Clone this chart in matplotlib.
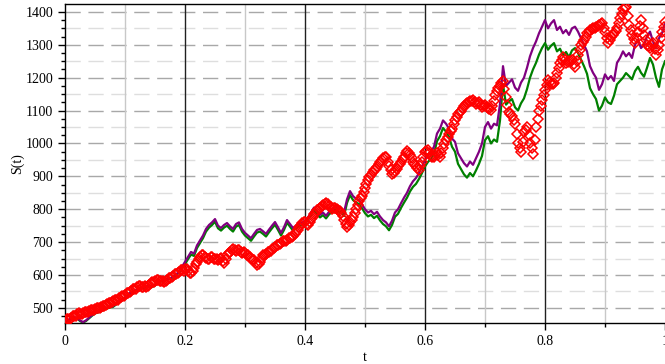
import matplotlib.pyplot as plt
import numpy as np
from matplotlib.ticker import MultipleLocator

plt.rcParams['font.family'] = ['Liberation Serif', 'DejaVu Serif']

# sample times (step 0.005), plus the half-step times used by the red samples
t = np.linspace(0, 1, 201)
t_mid = t[:-1] + 0.0025

purple_path = [
    460, 463, 468, 472, 470, 462, 457, 462, 470, 478,
    485, 488, 492, 497, 500, 503, 505, 512, 520, 526,
    532, 540, 548, 552, 556, 560, 562, 565, 567, 565,
    570, 578, 582, 585, 588, 590, 595, 600, 612, 625,
    640, 655, 670, 665, 690, 705, 720, 740, 752, 760,
    770, 750, 743, 752, 758, 748, 740, 755, 760, 740,
    728, 720, 712, 725, 737, 740, 733, 725, 738, 750,
    761, 745, 728, 745, 767, 755, 743, 750, 755, 760,
    765, 775, 790, 805, 795, 783, 790, 780, 792, 800,
    810, 800, 805, 790, 830, 855, 840, 832, 828, 815,
    800, 790, 795, 785, 792, 778, 767, 760, 748, 765,
    790, 800, 818, 835, 850, 870, 885, 895, 910, 930,
    950, 965, 975, 990, 1030, 1045, 1070, 1060, 1045, 1015,
    1005, 970, 955, 940, 930, 945, 935, 955, 975, 1000,
    1050, 1065, 1045, 1060, 1055, 1120, 1235, 1175, 1185, 1195,
    1170, 1160, 1185, 1200, 1230, 1265, 1290, 1310, 1335, 1355,
    1375, 1350, 1365, 1375, 1345, 1355, 1335, 1345, 1330, 1350,
    1355, 1340, 1320, 1300, 1280, 1235, 1215, 1200, 1163, 1180,
    1210, 1195, 1205, 1190, 1245, 1260, 1280, 1265, 1275, 1260,
    1300, 1315, 1290, 1300, 1325, 1340, 1310, 1290, 1320, 1335,
    1365,
]

green_path = [
    459, 461, 466, 470, 468, 460, 455, 460, 468, 476,
    483, 486, 490, 495, 498, 501, 503, 510, 518, 524,
    530, 538, 546, 550, 554, 558, 560, 563, 565, 563,
    568, 576, 580, 583, 586, 588, 593, 597, 608, 620,
    633, 648, 662, 658, 682, 697, 712, 732, 744, 752,
    762, 742, 735, 744, 750, 740, 732, 747, 752, 732,
    720, 712, 704, 717, 729, 732, 725, 717, 730, 742,
    753, 737, 720, 737, 759, 747, 735, 742, 747, 752,
    757, 767, 782, 797, 787, 775, 782, 772, 784, 792,
    800, 790, 795, 779, 819, 843, 828, 820, 816, 803,
    788, 778, 783, 773, 780, 766, 755, 748, 736, 752,
    777, 786, 804, 820, 835, 854, 868, 877, 892, 910,
    930, 944, 953, 968, 1007, 1022, 1047, 1036, 1020, 990,
    975, 938, 922, 906, 896, 910, 900, 918, 938, 962,
    1010, 1022, 1000, 1012, 1005, 1070, 1180, 1118, 1128, 1135,
    1110, 1100, 1122, 1137, 1165, 1200, 1225, 1245, 1270, 1290,
    1305, 1285, 1297, 1305, 1280, 1288, 1268, 1278, 1262, 1283,
    1290, 1275, 1255, 1235, 1212, 1168, 1150, 1135, 1100, 1115,
    1140, 1125, 1120, 1145, 1180, 1190, 1200, 1214, 1205, 1195,
    1220, 1233, 1215, 1203, 1230, 1260, 1240, 1200, 1172, 1225,
    1250,
]

red_path = [
    460, 465, 470, 475, 480, 482, 485, 488, 490, 494,
    497, 500, 503, 507, 512, 516, 520, 524, 530, 535,
    540, 546, 552, 557, 562, 565, 562, 563, 570, 578,
    582, 585, 582, 580, 586, 592, 598, 604, 610, 614,
    618, 612, 606, 620, 640, 655, 661, 652, 648, 655,
    650, 645, 652, 637, 661, 670, 680, 672, 676, 668,
    667, 660, 650, 645, 631, 640, 661, 665, 670, 678,
    685, 692, 697, 702, 707, 712, 720, 730, 745, 758,
    760, 752, 770, 785, 798, 805, 813, 819, 810, 800,
    804, 798, 790, 767, 746, 760, 777, 800, 825, 840,
    865, 890, 905, 918, 928, 945, 955, 958, 930, 908,
    915, 930, 945, 960, 978, 965, 945, 930, 920, 945,
    975, 980, 962, 958, 972, 960, 985, 1010, 1030, 1045,
    1070, 1090, 1100, 1115, 1123, 1128, 1132, 1120, 1125, 1112,
    1117, 1108, 1102, 1130, 1160, 1175, 1190, 1140, 1095, 1082,
    1060, 1001, 975, 1035, 1050, 1001, 968, 1050, 1100, 1132,
    1163, 1193, 1180, 1185, 1214, 1245, 1263, 1245, 1250, 1254,
    1233, 1270, 1300, 1315, 1335, 1345, 1350, 1354, 1360, 1366,
    1340, 1305, 1324, 1335, 1350, 1380, 1410, 1415, 1360, 1330,
    1305, 1340, 1375, 1330, 1300, 1290, 1305, 1270, 1300, 1340,
    1370,
]

# red samples taken between the ones above
red_mid = [
    466, 467, 474, 476, 483, 481, 488, 487, 494, 494,
    500, 501, 507, 508, 515, 517, 524, 525, 534, 536,
    545, 548, 556, 558, 566, 562, 565, 565, 576, 579,
    586, 582, 583, 581, 591, 594, 603, 606, 614, 613,
    618, 607, 613, 632, 648, 660, 656, 648, 654, 650,
    649, 650, 642, 648, 666, 676, 675, 676, 670, 670,
    662, 656, 647, 636, 634, 652, 662, 670, 672, 683,
    690, 693, 702, 703, 711, 716, 726, 737, 752, 761,
    755, 762, 777, 793, 800, 810, 815, 815, 806, 803,
    800, 795, 778, 755, 752, 768, 790, 812, 833, 852,
    878, 898, 912, 922, 938, 950, 958, 945, 918, 910,
    922, 938, 952, 970, 972, 955, 938, 925, 932, 960,
    978, 970, 960, 966, 965, 972, 998, 1020, 1038, 1058,
    1080, 1096, 1108, 1120, 1126, 1130, 1126, 1122, 1118, 1115,
    1112, 1104, 1115, 1146, 1168, 1183, 1165, 1118, 1088, 1070,
    1030, 985, 1005, 1042, 1025, 985, 1010, 1075, 1115, 1148,
    1178, 1186, 1182, 1200, 1230, 1255, 1254, 1248, 1252, 1243,
    1250, 1285, 1308, 1325, 1340, 1348, 1352, 1357, 1363, 1352,
    1322, 1315, 1330, 1342, 1365, 1395, 1412, 1388, 1345, 1318,
    1322, 1358, 1352, 1315, 1295, 1298, 1288, 1285, 1320, 1355,
]

fig = plt.figure(figsize=(6.65, 3.64), dpi=100)
ax = fig.add_axes([65 / 665, 41 / 364, 600 / 665, 319 / 364])

# background grid
for y in range(550, 1450, 100):
    ax.axhline(y, color='#dedede', lw=1, dashes=(11, 5.5), zorder=0)
for y in range(500, 1450, 100):
    ax.axhline(y, color='#a8a8a8', lw=1, dashes=(11, 5.5), zorder=0)
for x in [0.1, 0.3, 0.5, 0.7, 0.9]:
    ax.axvline(x, color='#c8c8c8', lw=1, zorder=0)
for x in [0.2, 0.4, 0.6, 0.8]:
    ax.axvline(x, color='#202020', lw=1, zorder=0)

ax.plot(t, green_path, color='#008000', lw=1.6, zorder=2)
ax.plot(t, purple_path, color='#800080', lw=1.6, zorder=3)
red_t = np.concatenate([t, t_mid])
red_s = np.concatenate([red_path, red_mid])
ax.plot(red_t, red_s, ls='none', marker='D', ms=4.8, mfc='none',
        mec='#ff0000', mew=1.1, zorder=4)

ax.set_xlim(0, 1.0)
ax.set_ylim(454, 1424)
ax.xaxis.set_minor_locator(MultipleLocator(0.1))
ax.yaxis.set_major_locator(MultipleLocator(100))
ax.yaxis.set_minor_locator(MultipleLocator(25))
ax.set_xticks([0, 0.2, 0.4, 0.6, 0.8, 1.0])
ax.set_xticklabels(['0', '0.2', '0.4', '0.6', '0.8', '1'])
ax.tick_params(which='both', direction='out', labelsize=10, colors='black')
ax.tick_params(which='major', length=5, width=1)
ax.tick_params(which='minor', length=3, width=1)
ax.spines['right'].set_visible(False)
for s in ['left', 'bottom', 'top']:
    ax.spines[s].set_linewidth(1)

ax.set_xlabel('t', fontsize=10, labelpad=2)
ax.set_ylabel('S(t)', fontsize=10, labelpad=1)

fig.savefig('out.png', dpi=100)
